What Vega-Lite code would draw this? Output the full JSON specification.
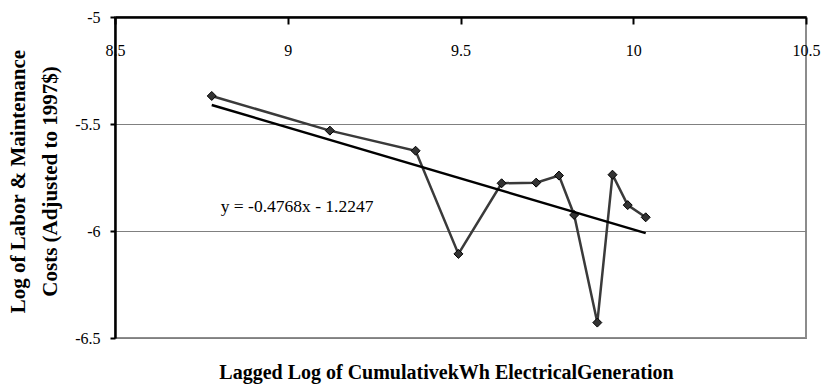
{
  "$schema": "https://vega.github.io/schema/vega-lite/v6.json",
  "width": 691,
  "height": 321,
  "autosize": {"type": "none"},
  "padding": {"left": 115, "top": 17, "right": 19, "bottom": 48},
  "background": "white",
  "config": {
    "font": "Liberation Serif",
    "view": {"stroke": "#8c8c8c", "strokeWidth": 2}
  },
  "title": {
    "text": "Lagged Log of CumulativekWh ElectricalGeneration",
    "orient": "bottom",
    "anchor": "middle",
    "frame": "group",
    "font": "Liberation Serif",
    "fontSize": 20,
    "fontWeight": "bold",
    "color": "black",
    "baseline": "alphabetic",
    "dx": -14,
    "offset": 33
  },
  "datasets": {
    "obs": [
      {"x": 8.780, "y": -5.369},
      {"x": 9.122, "y": -5.531},
      {"x": 9.370, "y": -5.625},
      {"x": 9.494, "y": -6.107},
      {"x": 9.619, "y": -5.777},
      {"x": 9.719, "y": -5.774},
      {"x": 9.785, "y": -5.741},
      {"x": 9.829, "y": -5.925},
      {"x": 9.896, "y": -6.428},
      {"x": 9.940, "y": -5.737},
      {"x": 9.984, "y": -5.879},
      {"x": 10.036, "y": -5.936}
    ],
    "trend": [
      {"x": 8.78, "y": -5.411},
      {"x": 10.036, "y": -6.010}
    ],
    "label": [
      {"x": 9.027, "y": -5.888, "text": "y = -0.4768x - 1.2247"}
    ]
  },
  "layer": [
    {
      "data": {"name": "obs"},
      "mark": {"type": "line", "color": "#3a3a3a", "strokeWidth": 2.5},
      "encoding": {
        "x": {
          "field": "x", "type": "quantitative",
          "scale": {"domain": [8.5, 10.5], "nice": false, "zero": false},
          "axis": {
            "orient": "bottom", "offset": -321, "values": [8.5, 9, 9.5, 10, 10.5],
            "labelExpr": "'' + datum.value",
            "title": null, "grid": false,
            "domainColor": "black", "domainWidth": 2.5,
            "tickColor": "black", "tickWidth": 2, "tickSize": 7,
            "labelPadding": 18, "labelFontSize": 16, "labelColor": "black",
            "labelFont": "Liberation Serif", "labelFlush": false, "labelOverlap": false
          }
        },
        "y": {
          "field": "y", "type": "quantitative",
          "scale": {"domain": [-6.5, -5], "nice": false, "zero": false},
          "axis": {
            "values": [-5, -5.5, -6, -6.5],
            "labelExpr": "'' + datum.value",
            "grid": true, "gridColor": "#808080", "gridWidth": 1, "gridOpacity": 1,
            "domainColor": "black", "domainWidth": 2.5,
            "tickColor": "black", "tickWidth": 2, "tickSize": 5,
            "labelPadding": 10, "labelFontSize": 16, "labelColor": "black",
            "labelFont": "Liberation Serif", "labelFlush": false,
            "title": ["Log of Labor &  Maintenance", "Costs (Adjusted to 1997$)"],
            "titleFont": "Liberation Serif", "titleFontSize": 21, "titleFontWeight": "bold",
            "titleColor": "black", "titleLineHeight": 32,
            "titleAngle": -90, "titleX": -91, "titleY": 164,
            "titleAlign": "center", "titleBaseline": "alphabetic"
          }
        }
      }
    },
    {
      "data": {"name": "obs"},
      "mark": {"type": "point", "shape": "diamond", "filled": true, "size": 81, "fill": "#333333", "stroke": "black", "strokeWidth": 1, "opacity": 1},
      "encoding": {
        "x": {"field": "x", "type": "quantitative"},
        "y": {"field": "y", "type": "quantitative"}
      }
    },
    {
      "data": {"name": "trend"},
      "mark": {"type": "line", "color": "black", "strokeWidth": 2.5},
      "encoding": {
        "x": {"field": "x", "type": "quantitative"},
        "y": {"field": "y", "type": "quantitative"}
      }
    },
    {
      "data": {"name": "label"},
      "mark": {"type": "text", "font": "Liberation Serif", "fontSize": 17.5, "color": "black", "align": "center", "baseline": "middle"},
      "encoding": {
        "x": {"field": "x", "type": "quantitative"},
        "y": {"field": "y", "type": "quantitative"},
        "text": {"field": "text"}
      }
    }
  ]
}
